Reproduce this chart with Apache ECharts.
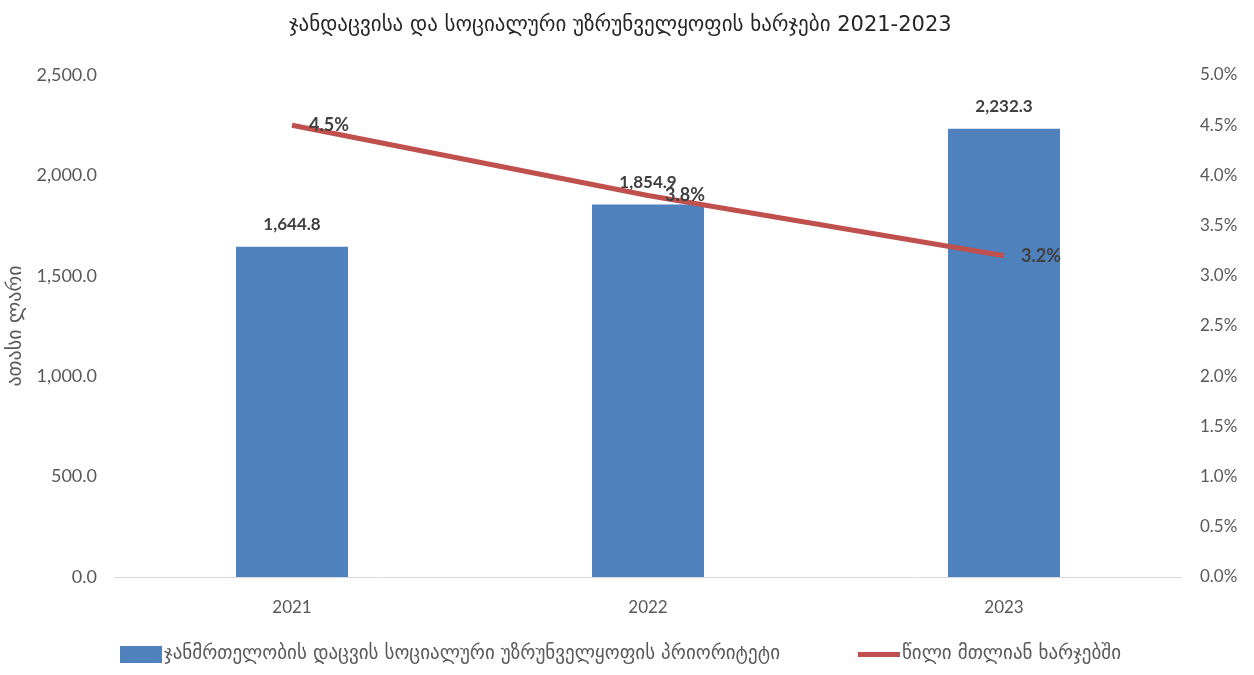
<!DOCTYPE html>
<html>
<head>
<meta charset="utf-8">
<script src="https://cdn.jsdelivr.net/npm/echarts@6/dist/echarts.min.js"></script>
<style>html,body{margin:0;padding:0;background:#fff}#c{width:1254px;height:675px}</style>
</head>
<body>
<div id="c"></div>
<script>
const categories = ['2021', '2022', '2023'];
const spending = [1644.8, 1854.9, 2232.3];
const sharePct = [4.5, 3.8, 3.2];
const titleText = 'ჯანდაცვისა და სოციალური უზრუნველყოფის ხარჯები 2021-2023';
const barName = 'ჯანმრთელობის დაცვის სოციალური უზრუნველყოფის პრიორიტეტი';
const lineName = 'წილი მთლიან ხარჯებში';
const yName = 'ათასი ლარი';

const FONT = "Lato, 'DejaVu Sans', sans-serif";
const GEO = "'DejaVu Sans', sans-serif";
const chart = echarts.init(document.getElementById('c'));
chart.setOption({
  backgroundColor: '#fff',
  animation: false,
  textStyle: { fontFamily: FONT },
  title: {
    text: titleText, left: 284, top: 10,
    textStyle: { fontFamily: GEO, fontSize: 21, fontWeight: 'normal', color: '#262626' }
  },
  legend: {
    bottom: 6, left: 115, itemGap: 78, itemWidth: 42, itemHeight: 17,
    textStyle: { fontFamily: GEO, fontSize: 19, color: '#595959', padding: [0, 0, 0, -3] },
    data: [
      { name: barName, icon: 'rect' },
      { name: lineName, icon: 'path://M0,0 H42 V5 H0 Z' }
    ]
  },
  grid: { left: 114, right: 72, top: 75, bottom: 98, outerBoundsMode: 'none', containLabel: false },
  xAxis: {
    type: 'category', data: categories,
    axisLine: { lineStyle: { color: '#d9d9d9', width: 1 } },
    axisTick: { show: false },
    axisLabel: { color: '#595959', fontSize: 17, margin: 22 }
  },
  yAxis: [
    {
      type: 'value', min: 0, max: 2500, interval: 500,
      name: yName, nameLocation: 'middle', nameGap: 87, nameRotate: 90,
      nameTextStyle: { fontFamily: GEO, fontSize: 20, color: '#595959' },
      axisLine: { show: false }, axisTick: { show: false }, splitLine: { show: false },
      axisLabel: { color: '#595959', fontSize: 18, margin: 17, formatter: v => v.toLocaleString('en-US', { minimumFractionDigits: 1, maximumFractionDigits: 1 }) }
    },
    {
      type: 'value', min: 0, max: 5, interval: 0.5,
      axisLine: { show: false }, axisTick: { show: false }, splitLine: { show: false },
      axisLabel: { color: '#595959', fontSize: 17, margin: 18, formatter: v => v.toFixed(1) + '%' }
    }
  ],
  series: [
    {
      name: barName, type: 'bar', data: spending, barWidth: 112,
      itemStyle: { color: '#4F81BD' },
      label: {
        show: true, position: 'top', distance: 14, color: '#404040', fontSize: 17, fontWeight: 'bold',
        formatter: p => p.value.toLocaleString('en-US', { minimumFractionDigits: 1, maximumFractionDigits: 1 })
      }
    },
    {
      name: lineName, type: 'line', yAxisIndex: 1, data: sharePct,
      symbol: 'circle', symbolSize: 0.1, showSymbol: true,
      lineStyle: { color: '#C0504D', width: 5 },
      itemStyle: { color: '#C0504D' },
      label: {
        show: true, position: 'right', distance: 17, color: '#404040', fontSize: 18, fontWeight: 'bold',
        formatter: p => p.value.toFixed(1) + '%'
      },
      z: 5
    }
  ]
});
</script>
</body>
</html>
